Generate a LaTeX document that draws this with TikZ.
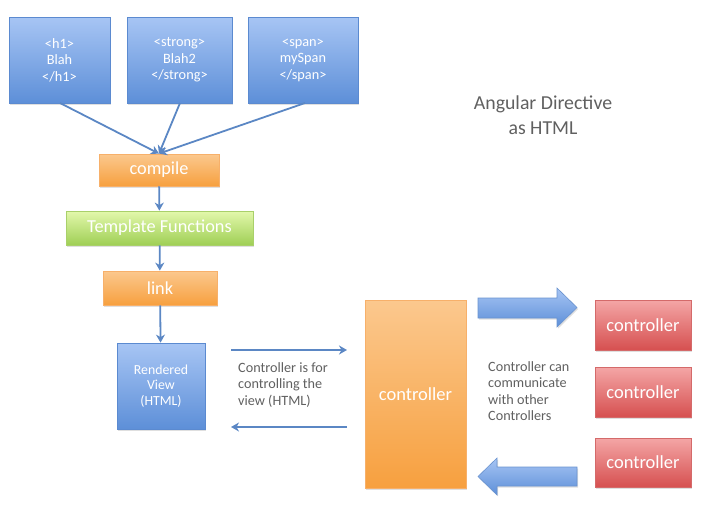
\documentclass[tikz,border=0pt]{standalone}
\usepackage{fontspec}
\setmainfont{Carlito}
\usetikzlibrary{arrows.meta,shadows}
\definecolor{lineblue}{HTML}{5B87C4}
\definecolor{txtgray}{HTML}{606060}
\definecolor{bdblue}{HTML}{5B8AD0}
\definecolor{topblue}{HTML}{A7C5F4}
\definecolor{botblue}{HTML}{5D8FD8}
\definecolor{bdorange}{HTML}{F7B06A}
\definecolor{toporange}{HTML}{FBC88E}
\definecolor{botorange}{HTML}{F7A03F}
\definecolor{bdgreen}{HTML}{A9D06A}
\definecolor{topgreen}{HTML}{E3F8AC}
\definecolor{botgreen}{HTML}{9FCF55}
\definecolor{bdred}{HTML}{D46A6A}
\definecolor{topred}{HTML}{F4A6A6}
\definecolor{botred}{HTML}{D65050}
\definecolor{bdfat}{HTML}{6A93CF}
\tikzset{
  box/.style={rectangle, draw, line width=0.8pt, text=white, align=center, inner sep=2pt,
    drop shadow={shadow xshift=1.2pt, shadow yshift=-1.5pt, opacity=0.25}},
  bluebox/.style={box, draw=bdblue, top color=topblue, bottom color=botblue},
  orangebox/.style={box, draw=bdorange, top color=toporange, bottom color=botorange},
  greenbox/.style={box, draw=bdgreen, top color=topgreen, bottom color=botgreen},
  redbox/.style={box, draw=bdred, top color=topred, bottom color=botred},
  conn/.style={draw=lineblue, line width=1.8pt, -{Stealth[length=8pt,width=9pt,inset=2.5pt]}},
  lbl/.style={text=txtgray, align=left, inner sep=0pt},
  fat/.style={draw=bdfat, line width=0.6pt, top color=topblue, bottom color=botblue,
    drop shadow={shadow xshift=1.2pt, shadow yshift=-1.5pt, opacity=0.25}},
  tagfont/.style={font=\fontsize{14.3}{16.5}\selectfont},
  bigfont/.style={font=\fontsize{18.3}{20}\selectfont},
  ctrlfont/.style={font=\fontsize{18.5}{21}\selectfont},
}
\begin{document}
\begin{tikzpicture}[x=1pt,y=-1pt]
\useasboundingbox (0,0) rectangle (717,509);
% top tag boxes
\node[bluebox, tagfont, minimum width=101pt, minimum height=86pt] (h1) at (59.5,60) {<h1>\\Blah\\</h1>};
\node[bluebox, tagfont, minimum width=105pt, minimum height=86pt] (strong) at (179.5,60) {<strong>\\Blah2\\</strong>};
\node[bluebox, tagfont, minimum width=110pt, minimum height=86pt] (span) at (303,60) {<span>\\mySpan\\</span>};
% pipeline
\node[orangebox, bigfont, minimum width=120pt, minimum height=32pt] (compile) at (159,170) {compile};
\node[greenbox, bigfont, minimum width=187pt, minimum height=34pt] (tmpl) at (159.5,228) {Template Functions};
\node[orangebox, bigfont, minimum width=114pt, minimum height=34pt] (link) at (160,288) {link};
\node[bluebox, font=\fontsize{13.8}{15.5}\selectfont, minimum width=88pt, minimum height=86pt] (view) at (161,386) {Rendered\\View\\(HTML)};
% connectors
\coordinate (h1b) at (60,103);
\coordinate (strb) at (180,103);
\coordinate (spb) at (305,103);
\draw[conn] (h1b) -- (compile.north);
\draw[conn] (strb) -- (compile.north);
\draw[conn] (spb) -- (compile.north);
\draw[conn] (compile) -- (tmpl);
\draw[conn] (tmpl) -- (link);
\draw[conn] (link) -- (view);
% big controller
\node[box, draw=bdorange, top color=toporange, bottom color=botorange, ctrlfont,
  minimum width=101pt, minimum height=188pt] (big) at (415.5,394) {controller};
% view <-> controller arrows
\coordinate (vr1) at (231,350);
\coordinate (cr1) at (347,350);
\coordinate (vr2) at (231,427);
\coordinate (cr2) at (347,427);
\draw[conn] (vr1) -- (cr1);
\draw[conn] (cr2) -- (vr2);
\node[lbl, font=\fontsize{14.2}{16.8}\selectfont, anchor=north west] (txt1) at (238,362) {Controller is for\\controlling the\\view (HTML)};
% red controllers
\node[redbox, ctrlfont, minimum width=96pt, minimum height=50pt] (c1) at (643,325) {controller};
\node[redbox, ctrlfont, minimum width=96pt, minimum height=50pt] (c2) at (643,392) {controller};
\node[redbox, ctrlfont, minimum width=96pt, minimum height=49pt] (c3) at (643,462.5) {controller};
\node[lbl, font=\fontsize{14.2}{16.6}\selectfont, anchor=north west] (txt2) at (488,361) {Controller can\\communicate\\with other\\Controllers};
% fat arrows
\path[fat] (478,298) -- (557,298) -- (557,288) -- (577,307.5) -- (557,327) -- (557,318) -- (478,318) -- cycle;
\path[fat] (577,467) -- (497,467) -- (497,458) -- (478,476.5) -- (497,495) -- (497,486) -- (577,486) -- cycle;
% title
\node[text=txtgray, align=center, font=\fontsize{19.8}{25}\selectfont] (title) at (543,115) {Angular Directive\\as HTML};
\end{tikzpicture}
\end{document}
